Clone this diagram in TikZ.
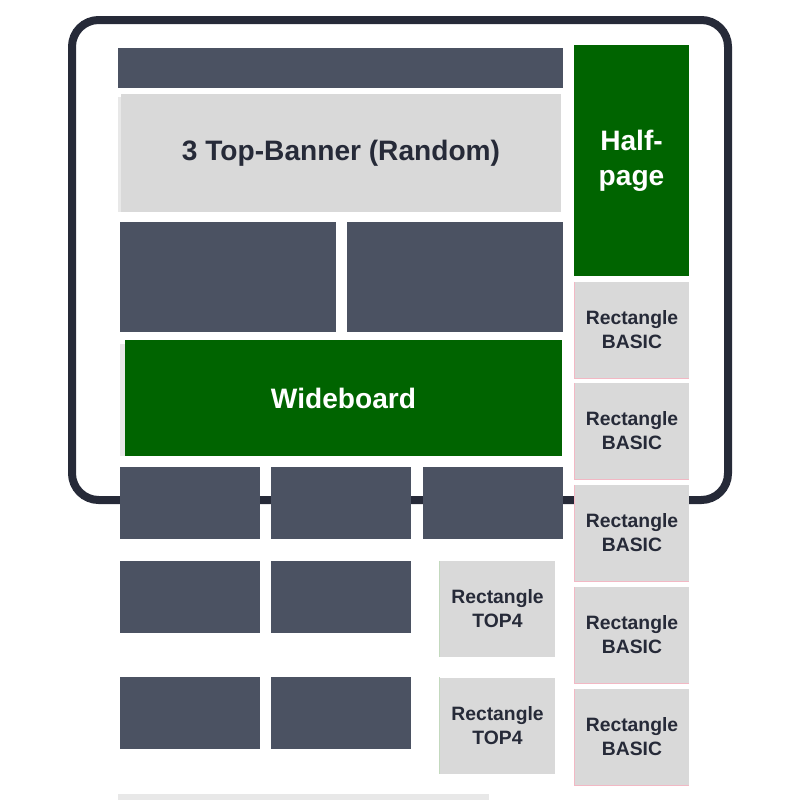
\documentclass[tikz,border=0pt]{standalone}
\usepackage{fontspec}
\setmainfont{Liberation Sans}
\usepackage{xcolor}
\usetikzlibrary{positioning}

\definecolor{slot}{HTML}{4B5262}
\definecolor{frame}{HTML}{262A38}
\definecolor{adgray}{HTML}{D9D9D9}
\definecolor{adgreen}{HTML}{006400}
\definecolor{edgepink}{HTML}{F2B8C4}
\definecolor{edgegreen}{HTML}{C3D9BE}

\begin{document}
\begin{tikzpicture}[x=0.3mm, y=-0.3mm,
			slotbox/.style={fill=slot, draw=none, inner sep=0pt},
			adbox/.style={fill=adgray, draw=none, inner sep=0pt, text=frame, align=center,
				font=\bfseries\fontsize{16.5}{20.4}\selectfont},
			bigad/.style={fill=adgreen, draw=none, inner sep=0pt, text=white, align=center,
				font=\bfseries\fontsize{24}{30}\selectfont},
			small/.style={minimum width=42mm, minimum height=21.6mm},
			rect/.style={minimum width=34.2mm, minimum height=28.8mm},
			device/.style={draw=frame, line width=2.4mm, rounded corners=8mm}
			]
			\useasboundingbox (0,0) rectangle (800,800);
			
			% device outline
			\draw[device] (72,20) rectangle (728,500);
			
			% top of page
			\node[slotbox, minimum width=133.5mm, minimum height=12mm] (head) at (340.5,68) {};
			\fill[black!9] (118,97) rectangle (121,212);
			\node[adbox, minimum width=132mm, minimum height=35.4mm,
				font=\bfseries\fontsize{24}{30}\selectfont] (banner) at (341,153) {3 Top-Banner (Random)};
			\node[slotbox, minimum width=64.8mm, minimum height=33mm] (teaserL) at (228,277) {};
			\node[slotbox, minimum width=64.8mm, minimum height=33mm] (teaserR) at (455,277) {};
			\fill[black!9] (120,344) rectangle (125,456);
			\node[bigad, minimum width=131.1mm, minimum height=34.8mm] (wide) at (343.5,398) {Wideboard};
			
			% sidebar
			\node[bigad, minimum width=34.5mm, minimum height=69.3mm] (half) at (631.5,160.5) {Half-\\page};
			\foreach \i/\y in {1/330, 2/431, 3/533, 4/635, 5/737} {
				\node[adbox, rect] (basic\i) at (632,\y) {Rectangle\\BASIC};
				\draw[edgepink, line width=0.3mm]
					(basic\i.north west) -- (basic\i.south west) -- (basic\i.south east);
			}
			
			% teaser rows
			\foreach \j/\x in {1/190, 2/341, 3/492.5}
				\node[slotbox, small] (rowA\j) at (\x,503) {};
			\foreach \j/\x in {1/190, 2/341} {
				\node[slotbox, small] (rowB\j) at (\x,596.5) {};
				\node[slotbox, small] (rowC\j) at (\x,713) {};
			}
			\foreach \k/\y in {1/609, 2/725.5} {
				\node[adbox, minimum width=34.5mm, minimum height=28.8mm] (top\k) at (497.5,\y) {Rectangle\\TOP4};
				\draw[edgegreen, line width=0.3mm] (top\k.north west) -- (top\k.south west);
			}
			
			% next row, cut off
			\fill[black!9] (118,794) rectangle (489,800);
		\end{tikzpicture}
\end{document}
